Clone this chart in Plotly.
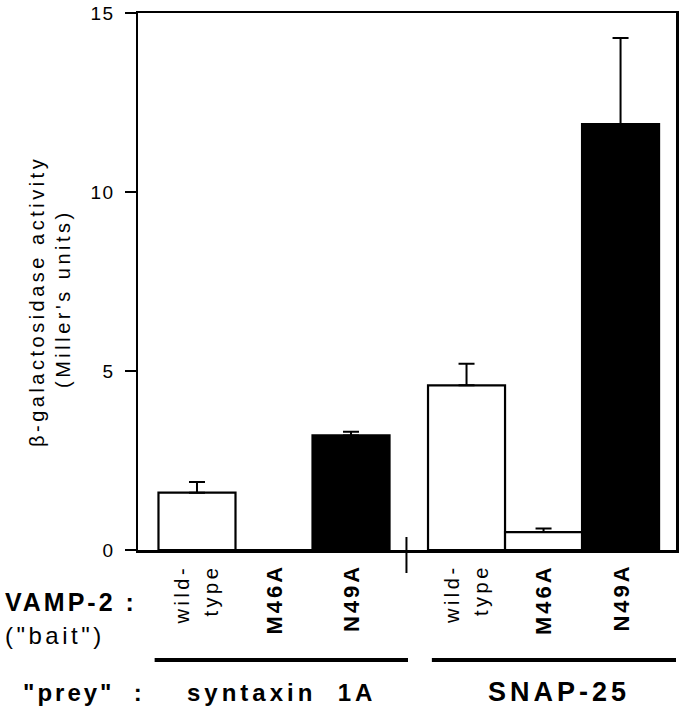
import plotly.graph_objects as go

# ---- data ----
categories = ["wild-<br>type", "M46A", "N49A", "wild-<br>type", "M46A", "N49A"]
positions = [0, 1, 2, 3.5, 4.5, 5.5]
values = [1.6, 0.0, 3.2, 4.6, 0.5, 11.9]
errors = [0.3, 0.0, 0.1, 0.6, 0.1, 2.4]
fills = ["white", "white", "black", "white", "white", "black"]
groups = ["syntaxin  1A", "SNAP-25"]
group_members = [[0, 1, 2], [3, 4, 5]]
y_ticks = [0, 5, 10, 15]

FONT = "Liberation Sans, Arial, Helvetica, sans-serif"


def spaced(text, ls):
    return "<br>".join(
        f"<span style='letter-spacing:{ls}px'>{line}</span>" for line in text.split("<br>")
    )


fig = go.Figure()
fig.add_trace(go.Bar(
    x=positions, y=values, width=1.0,
    marker=dict(color=fills, line=dict(color="black", width=2.2)),
    error_y=dict(type="data", array=errors, arrayminus=[0] * len(errors),
                 symmetric=False, color="black", thickness=2, width=8),
    showlegend=False, hoverinfo="skip",
))

# body margin is removed by post_script, so figure coords = page coords
OFF = 0
W, H = 687 - OFF, 719 - OFF
L, T = 138 - OFF, 13 - OFF
R = W - (676 - OFF)
B = H - (550 - OFF)
pw, ph = W - L - R, H - T - B
XR = [-0.766, 6.22]
UNIT = pw / (XR[1] - XR[0])  # px per x data unit


def px_x(p):  # p in page px
    return (p - OFF - L) / pw


def px_y(p):  # p in page px
    return (H - B - (p - OFF)) / ph


annotations = []
# category labels (rotated)
for pos, lab in zip(positions, categories):
    lines = lab.split("<br>")
    if len(lines) > 1:
        offs = [-14.5, 14.5]
        for line, off in zip(lines, offs):
            annotations.append(dict(
                x=pos + off / UNIT, xref="x", y=px_y(562), yref="paper",
                text=spaced(line, 3.5), textangle=-90,
                xanchor="center", yanchor="top", showarrow=False,
                font=dict(family=FONT, size=20, color="black"),
            ))
    else:
        annotations.append(dict(
            x=pos, xref="x", y=px_y(562), yref="paper",
            text="<b>" + spaced(lab, 3) + "</b>",
            textangle=-90, xanchor="center", yanchor="top",
            showarrow=False,
            font=dict(family=FONT, size=22, color="black"),
        ))

# y-axis title (two lines)
annotations.append(dict(
    x=px_x(37), xref="paper", y=px_y(302), yref="paper",
    text=spaced("β-galactosidase activity", 3.5), textangle=-90,
    showarrow=False, xanchor="center", yanchor="middle",
    font=dict(family=FONT, size=20, color="black"),
))
annotations.append(dict(
    x=px_x(63), xref="paper", y=px_y(299), yref="paper",
    text=spaced("(Miller's units)", 3.5), textangle=-90,
    showarrow=False, xanchor="center", yanchor="middle",
    font=dict(family=FONT, size=20, color="black"),
))

# row labels
annotations.append(dict(
    x=px_x(3), xref="paper", y=px_y(602), yref="paper",
    text="<b>" + spaced("VAMP-2 :", 3) + "</b>", showarrow=False,
    xanchor="left", yanchor="middle",
    font=dict(family=FONT, size=25, color="black"),
))
annotations.append(dict(
    x=px_x(3), xref="paper", y=px_y(635), yref="paper",
    text=spaced('("bait")', 3.5), showarrow=False,
    xanchor="left", yanchor="middle",
    font=dict(family=FONT, size=24, color="black"),
))
annotations.append(dict(
    x=px_x(21), xref="paper", y=px_y(692), yref="paper",
    text="<b>" + spaced('"prey"  :', 3) + "</b>", showarrow=False,
    xanchor="left", yanchor="middle",
    font=dict(family=FONT, size=24, color="black"),
))

shapes = []
# group underlines and group names
pad_left = [0.55, 0.45]
pad_right = [0.74, 0.86]
for gi, (gname, members) in enumerate(zip(groups, group_members)):
    x0 = positions[members[0]] - pad_left[gi]
    x1 = positions[members[-1]] + pad_right[gi]
    shapes.append(dict(type="line", xref="x", yref="paper",
                       x0=x0, x1=x1, y0=px_y(660), y1=px_y(660),
                       line=dict(color="black", width=4)))
    annotations.append(dict(
        x=(x0 + x1) / 2, xref="x", y=px_y(692), yref="paper",
        text="<b>" + spaced(gname, 4) + "</b>", showarrow=False,
        xanchor="center", yanchor="middle",
        font=dict(family=FONT, size=24 if gi == 0 else 27, color="black"),
    ))

# axis break mark between groups
brk = (positions[2] + positions[3]) / 2 - 0.03
shapes.append(dict(type="line", xref="x", yref="paper",
                   x0=brk, x1=brk, y0=px_y(537), y1=px_y(573),
                   line=dict(color="black", width=2)))

fig.update_layout(
    template="none",
    width=W, height=H,
    margin=dict(l=L, r=R, t=T, b=B, pad=0, autoexpand=False),
    paper_bgcolor="white", plot_bgcolor="white",
    font=dict(family=FONT, color="black"),
    annotations=annotations, shapes=shapes,
    bargap=0, hovermode=False,
)
fig.update_xaxes(
    range=XR, showticklabels=False, ticks="", automargin=False,
    showline=True, linecolor="black", linewidth=2.5, mirror=True,
    showgrid=False, zeroline=False,
)
fig.update_yaxes(
    range=[0, 15], tickvals=y_ticks, ticktext=[spaced(str(t), 1.5) for t in y_ticks],
    ticks="outside", ticklen=11, tickwidth=2, tickcolor="black", automargin=False,
    tickfont=dict(family=FONT, size=19, color="black"), ticklabelstandoff=6,
    ticklabeloverflow="allow",
    showline=True, linecolor="black", linewidth=2.5, mirror=True,
    showgrid=False, zeroline=False,
)

fig.write_html(
    "out.html",
    config={"displayModeBar": False, "staticPlot": True},
    post_script="document.body.style.margin='0';document.body.style.overflow='hidden';",
)
